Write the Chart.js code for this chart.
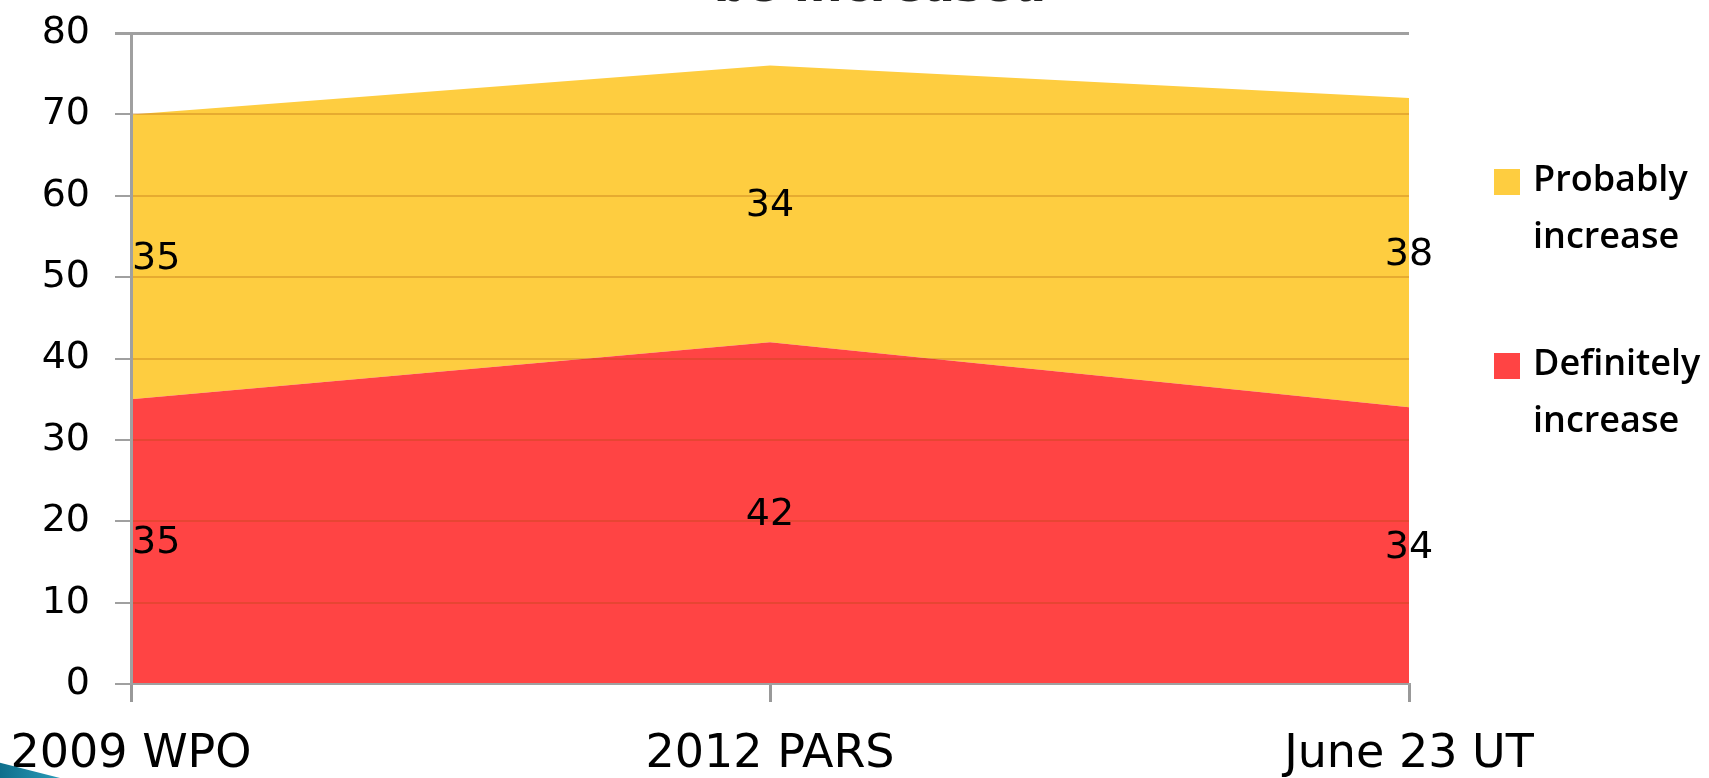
<!DOCTYPE html>
<html>
<head>
<meta charset="utf-8">
<script src="https://cdn.jsdelivr.net/npm/chart.js@4"></script>
<style>
  html, body { margin: 0; padding: 0; background: #ffffff; overflow: hidden; }
  #wrap { position: relative; width: 1709px; height: 778px; }
  #corner { position: absolute; left: 0; bottom: 0; width: 60px; height: 18px;
            background: linear-gradient(90deg, #0f6f8c, #2a9bb8);
            clip-path: polygon(0 15%, 100% 100%, 0 100%); }
</style>
</head>
<body>
<div id="wrap">
  <canvas id="chart" width="1709" height="778"></canvas>
  <div id="corner"></div>
</div>
<script>
// --- data ---
const categories = ['2009 WPO', '2012 PARS', 'June 23 UT'];
const definitely = [35, 42, 34];
const probably = [35, 34, 38];
const yTicks = [0, 10, 20, 30, 40, 50, 60, 70, 80];
const seriesNames = ['Probably\nincrease', 'Definitely\nincrease'];

const RED = '#ff4444';
const YELLOW = '#fecd40';

// band value labels in the middle of each stacked area
const bandLabels = {
    id: 'bandLabels',
    afterDraw(chart) {
        const ctx = chart.ctx;
        const area = chart.chartArea;
        ctx.save();
        ctx.font = '38px "DejaVu Sans"';
        ctx.fillStyle = '#000';
        ctx.textBaseline = 'middle';
        ctx.textAlign = 'center';
        const m0 = chart.getDatasetMeta(0);
        const m1 = chart.getDatasetMeta(1);
        const base = chart.scales.y.getPixelForValue(0);
        m0.data.forEach((pt, i) => {
            const top0 = pt.y;
            const top1 = m1.data[i].y;
            const items = [
                { txt: String(definitely[i]), y: (base + top0) / 2 },
                { txt: String(probably[i]), y: (top0 + top1) / 2 }
            ];
            items.forEach(it => {
                const w = ctx.measureText(it.txt).width;
                const x = Math.max(pt.x, area.left + w / 2 + 1);
                ctx.fillText(it.txt, x, it.y + 2);
            });
        });
        ctx.restore();
    }
};

// two-line legend on the right
const sideLegend = {
    id: 'sideLegend',
    afterDraw(chart) {
        const ctx = chart.ctx;
        ctx.save();
        const entries = [
            { name: seriesNames[0], color: YELLOW, y: 169 },
            { name: seriesNames[1], color: RED, y: 353 }
        ];
        ctx.font = '600 36px "Open Sans"';
        ctx.textAlign = 'left';
        ctx.textBaseline = 'alphabetic';
        entries.forEach(e => {
            ctx.fillStyle = e.color;
            ctx.fillRect(1494, e.y, 26, 26);
            ctx.fillStyle = '#000';
            e.name.split('\n').forEach((line, k) => {
                ctx.fillText(line, 1533, e.y + 22 + k * 57);
            });
        });
        // title cut off at the top edge
        ctx.font = 'bold 46px "DejaVu Sans"';
        ctx.fillStyle = '#222';
        ctx.textAlign = 'center';
        ctx.fillText('be increased', 880, 1);
        ctx.restore();
    }
};

const ctx = document.getElementById('chart').getContext('2d');
new Chart(ctx, {
    type: 'line',
    data: {
        labels: categories,
        datasets: [
            {
                label: 'Definitely increase',
                data: definitely,
                backgroundColor: RED,
                borderWidth: 0,
                pointRadius: 0,
                fill: 'origin',
                tension: 0
            },
            {
                label: 'Probably increase',
                data: probably,
                backgroundColor: YELLOW,
                borderWidth: 0,
                pointRadius: 0,
                fill: '-1',
                tension: 0
            }
        ]
    },
    options: {
        responsive: false,
        animation: false,
        layout: { padding: { top: 33, right: 300, left: 0, bottom: 0 } },
        plugins: {
            legend: { display: false },
            tooltip: { enabled: false }
        },
        scales: {
            x: {
                offset: false,
                afterFit(scale) {
                    scale.height = 94;
                    scale.paddingLeft = 0;
                    scale.paddingRight = 0;
                },
                grid: {
                    z: 1,
                    drawOnChartArea: false,
                    color: '#999',
                    lineWidth: 3,
                    tickLength: 18
                },
                border: { z: 2, color: '#a0a0a0', width: 2 },
                ticks: {
                    color: '#000',
                    font: { family: 'DejaVu Sans', size: 46 },
                    padding: 25,
                    maxRotation: 0
                }
            },
            y: {
                stacked: true,
                min: 0,
                max: 80,
                afterFit(scale) {
                    scale.width = 131;
                    scale.paddingTop = 0;
                    scale.paddingBottom = 0;
                },
                afterBuildTicks(scale) { scale.ticks = yTicks.map(v => ({ value: v })); },
                grid: {
                    z: 1,
                    color: c => (c.tick && (c.tick.value === 80 || c.tick.value === 0)) ? '#a0a0a0' : 'rgba(160,70,0,0.25)',
                    lineWidth: c => (c.tick && c.tick.value === 80) ? 3 : 2,
                    tickColor: '#a0a0a0',
                    tickLength: 16
                },
                border: { z: 2, color: '#a0a0a0', width: 3 },
                ticks: {
                    color: '#000',
                    font: { family: 'DejaVu Sans', size: 38 },
                    padding: 25
                }
            }
        }
    },
    plugins: [bandLabels, sideLegend]
});
</script>
</body>
</html>
